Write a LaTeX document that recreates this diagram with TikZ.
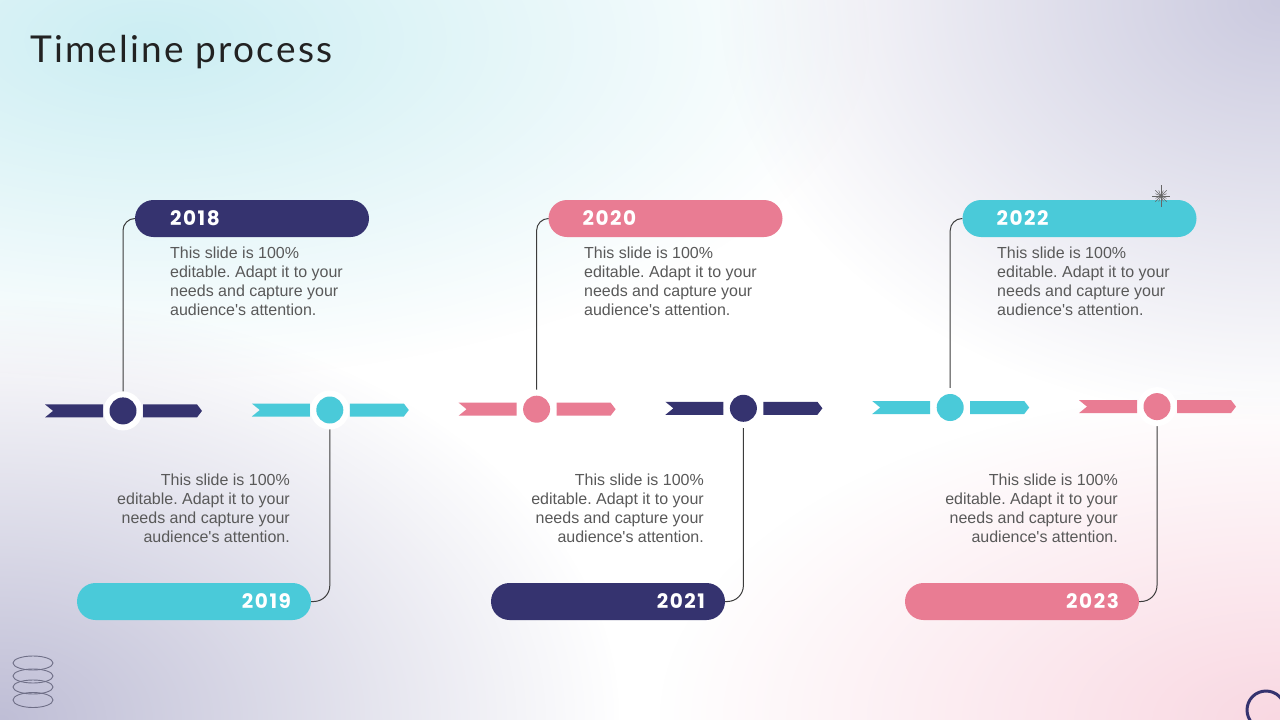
\documentclass[tikz,border=0pt]{standalone}
\usepackage{fontspec}
\newfontfamily\bodyfont{Liberation Sans}
\newfontfamily\yearfont{Poppins}[LetterSpace=8]
\newfontfamily\titlefont{Lato}[LetterSpace=6]
\usetikzlibrary{fadings}
\definecolor{navy}{HTML}{35336F}
\definecolor{cyanb}{HTML}{4ACAD9}
\definecolor{pinkb}{HTML}{E97C93}
\definecolor{bodygray}{HTML}{595959}
\definecolor{titlegray}{HTML}{222222}
\definecolor{connline}{HTML}{3C3C3C}
\definecolor{bgcyan}{HTML}{CCEEF3}
\definecolor{bglavTR}{HTML}{CBCADF}
\definecolor{bglavBL}{HTML}{BFBED6}
\definecolor{bgpink}{HTML}{F9D8E2}
\definecolor{ringgray}{HTML}{6E6E86}
\tikzfading[name=blobfade, inner color=transparent!0, outer color=transparent!100]
\newcommand\chevseg[4]{%
  \begin{scope}[shift={(#1,#2)}]
    \fill[#3] (-78,-6.5) -- (-20,-6.5) -- (-20,6.5) -- (-78,6.5) -- (-70,0) -- cycle;
    \fill[#3] (20,-6.5) -- (74,-6.5) -- (79,0) -- (74,6.5) -- (20,6.5) -- cycle;
  \end{scope}
  \node[halo] (h#4) at (#1,#2) {};
  \node[dot, fill=#3] (d#4) at (#1,#2) {};
}
\begin{document}
\begin{tikzpicture}[x=1pt,y=-1pt,
  pill/.style={rounded corners=18.5pt, minimum width=234pt, minimum height=37pt, inner sep=0pt},
  yearlbl/.style={font=\yearfont\bfseries\fontsize{20}{24}\selectfont, text=white, inner sep=0pt},
  bodytxt/.style={font=\bodyfont\fontsize{16}{19}\selectfont\frenchspacing, text=bodygray, inner sep=0pt},
  conn/.style={draw=connline, line width=1pt},
  halo/.style={circle, fill=white, minimum size=39pt, inner sep=0pt},
  dot/.style={circle, minimum size=27pt, inner sep=0pt},
  ring/.style={draw=ringgray, line width=0.9pt}
]
\useasboundingbox (0,0) rectangle (1280,720);
% background
\fill[white] (0,0) rectangle (1280,720);
\begin{scope}
\clip (0,0) rectangle (1280,720);
\fill[bgcyan, path fading=blobfade] (150,40) ellipse (720 and 340);
\fill[bglavTR, path fading=blobfade] (1280,0) ellipse (560 and 420);
\fill[bglavBL, path fading=blobfade] (0,720) ellipse (620 and 420);
\fill[bgpink, path fading=blobfade] (1280,720) ellipse (620 and 330);
\end{scope}

% title
\node[font=\titlefont\fontsize{37}{44}\selectfont, text=titlegray, anchor=base west, inner sep=0pt] (title) at (30,62.7) {Timeline process};

% segment centres
\coordinate (s1) at (123,410.9);
\coordinate (s2) at (329.8,410.0);
\coordinate (s3) at (536.6,409.2);
\coordinate (s4) at (743.4,408.3);
\coordinate (s5) at (950.2,407.5);
\coordinate (s6) at (1157,406.6);

% pills
\node[pill, fill=navy]  (p18) at (252,218.5) {};
\node[pill, fill=pinkb] (p20) at (665.5,218.5) {};
\node[pill, fill=cyanb] (p22) at (1079.5,218.5) {};
\node[pill, fill=cyanb] (p19) at (194,601.5) {};
\node[pill, fill=navy]  (p21) at (608,601.5) {};
\node[pill, fill=pinkb] (p23) at (1022,601.5) {};

% connectors
\draw[conn, rounded corners=12pt] (p18.west) -| (s1);
\draw[conn, rounded corners=12pt] (p20.west) -| (s3);
\draw[conn, rounded corners=12pt] (p22.west) -| (s5);
\draw[conn, rounded corners=16pt] (p19.east) -| (s2);
\draw[conn, rounded corners=16pt] (p21.east) -| (s4);
\draw[conn, rounded corners=16pt] (p23.east) -| (s6);

% timeline segments
\chevseg{123}{410.9}{navy}{1}
\chevseg{329.8}{410.0}{cyanb}{2}
\chevseg{536.6}{409.2}{pinkb}{3}
\chevseg{743.4}{408.3}{navy}{4}
\chevseg{950.2}{407.5}{cyanb}{5}
\chevseg{1157}{406.6}{pinkb}{6}

% year labels
\node[yearlbl, anchor=west] (y18) at ([xshift=35pt]p18.west) {2018};
\node[yearlbl, anchor=west] (y20) at ([xshift=34pt]p20.west) {2020};
\node[yearlbl, anchor=west] (y22) at ([xshift=34pt]p22.west) {2022};
\node[yearlbl, anchor=east] (y19) at ([xshift=-20pt]p19.east) {2019};
\node[yearlbl, anchor=east] (y21) at ([xshift=-20pt]p21.east) {2021};
\node[yearlbl, anchor=east] (y23) at ([xshift=-20pt]p23.east) {2023};

% body texts
\node[bodytxt, align=left, anchor=north west] (t18) at (170,247) {This slide is 100\%\\editable. Adapt it to your\\needs and capture your\\audience\textquotesingle s attention.};
\node[bodytxt, align=left, anchor=north west] (t20) at (584,247) {This slide is 100\%\\editable. Adapt it to your\\needs and capture your\\audience\textquotesingle s attention.};
\node[bodytxt, align=left, anchor=north west] (t22) at (997,247) {This slide is 100\%\\editable. Adapt it to your\\needs and capture your\\audience\textquotesingle s attention.};
\node[bodytxt, align=right, anchor=north east] (t19) at (290,473.5) {This slide is 100\%\\editable. Adapt it to your\\needs and capture your\\audience\textquotesingle s attention.};
\node[bodytxt, align=right, anchor=north east] (t21) at (704,473.5) {This slide is 100\%\\editable. Adapt it to your\\needs and capture your\\audience\textquotesingle s attention.};
\node[bodytxt, align=right, anchor=north east] (t23) at (1118,473.5) {This slide is 100\%\\editable. Adapt it to your\\needs and capture your\\audience\textquotesingle s attention.};

% sparkle star
\coordinate (star) at (1161,196);
\foreach \a/\l in {90/11,270/11,0/9,180/9,45/8,135/8,225/8,315/8,22.5/6,67.5/6,112.5/6,157.5/6,202.5/6,247.5/6,292.5/6,337.5/6}
  \draw[gray!80!black, line width=0.5pt] (star) -- ++(\a:\l);

% decorative rings
\draw[ring] (33,663) ellipse (20 and 7);
\draw[ring] (33,676) ellipse (20 and 7);
\draw[ring] (33,687) ellipse (20 and 7);
\draw[ring] (33,700) ellipse (20 and 7.5);

% corner circle
\draw[navy, line width=3pt] (1266,710) circle (19);
\end{tikzpicture}
\end{document}
